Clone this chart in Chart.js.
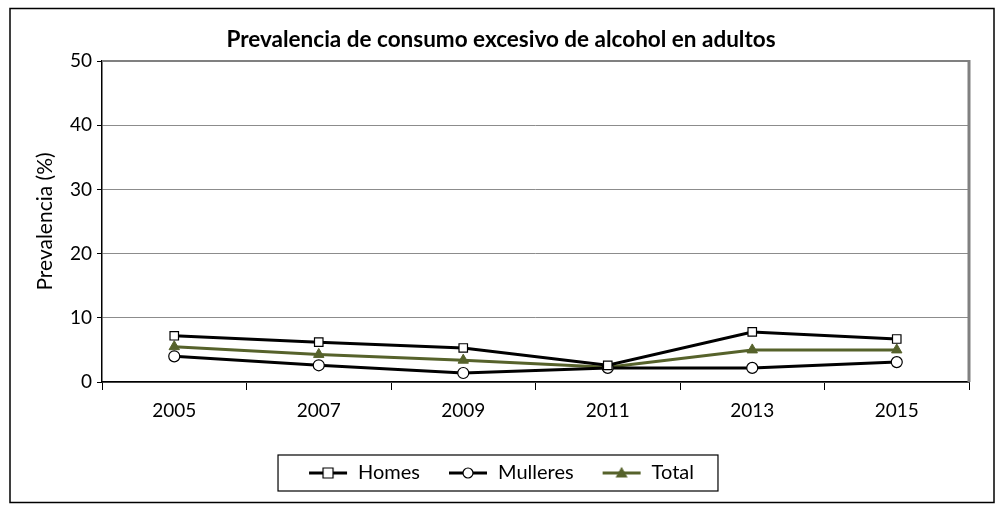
<!DOCTYPE html>
<html>
<head>
<meta charset="utf-8">
<script src="https://cdn.jsdelivr.net/npm/chart.js@4/dist/chart.umd.min.js"></script>
<style>
  body { margin: 0; background: #fff; }
  #wrap { width: 1002px; height: 508px; }
</style>
</head>
<body>
<div id="wrap"><canvas id="lineChart"></canvas></div>
<script>
// Data
const years = ['2005', '2007', '2009', '2011', '2013', '2015'];
const homes = [7.2, 6.2, 5.3, 2.6, 7.8, 6.7];
const mulleres = [4.0, 2.6, 1.4, 2.2, 2.2, 3.1];
const total = [5.5, 4.3, 3.4, 2.3, 5.0, 5.0];
const yTicks = [0, 10, 20, 30, 40, 50];

const olive = '#56622b';
const FONT = 'Lato, "DejaVu Sans", sans-serif';

// little "line + marker" images for the legend
function legendIcon(style, color, fill) {
    const c = document.createElement('canvas');
    c.width = 40; c.height = 14;
    const g = c.getContext('2d');
    g.strokeStyle = color;
    g.lineWidth = 3;
    g.beginPath(); g.moveTo(1, 7); g.lineTo(39, 7); g.stroke();
    g.lineWidth = 1.2;
    g.fillStyle = fill;
    g.beginPath();
    if (style === 'rect') {
        g.rect(15, 2, 10, 10);
    } else if (style === 'circle') {
        g.arc(20, 7, 5, 0, Math.PI * 2);
    } else {
        g.moveTo(20, 2); g.lineTo(25, 11); g.lineTo(15, 11); g.closePath();
    }
    g.fill(); g.stroke();
    return c;
}

// plot area border, legend box and outer frame
const framePlugin = {
    id: 'frames',
    afterDraw(chart) {
        const ctx = chart.ctx;
        const a = chart.chartArea;
        ctx.save();
        // top + right plot border
        ctx.strokeStyle = '#808080';
        ctx.lineWidth = 2;
        ctx.beginPath(); ctx.moveTo(a.left, a.top); ctx.lineTo(a.right, a.top); ctx.stroke();
        ctx.lineWidth = 3;
        ctx.beginPath(); ctx.moveTo(a.right, a.top - 1); ctx.lineTo(a.right, a.bottom); ctx.stroke();

        // legend box
        const boxes = chart.legend.legendHitBoxes;
        if (boxes && boxes.length) {
            const first = boxes[0], last = boxes[boxes.length - 1];
            ctx.strokeStyle = '#000';
            ctx.lineWidth = 1.2;
            ctx.strokeRect(first.left - 30, first.top - 8, last.left + last.width - first.left + 54, first.height + 16);
        }

        // outer frame
        ctx.lineWidth = 1.5;
        ctx.strokeRect(10, 8.5, 984, 494);
        ctx.restore();
    }
};

const ctxLine = document.getElementById('lineChart').getContext('2d');
const lineChart = new Chart(ctxLine, {
    type: 'line',
    data: {
        labels: years,
        datasets: [{
            label: 'Homes',
            data: homes,
            borderColor: '#000',
            borderWidth: 3,
            pointStyle: 'rect',
            pointRadius: 6,
            pointBackgroundColor: '#fff',
            pointBorderColor: '#000',
            pointBorderWidth: 1.2,
            legendIcon: legendIcon('rect', '#000', '#fff')
        }, {
            label: 'Mulleres',
            data: mulleres,
            borderColor: '#000',
            borderWidth: 3,
            pointStyle: 'circle',
            pointRadius: 5.5,
            pointBackgroundColor: '#fff',
            pointBorderColor: '#000',
            pointBorderWidth: 1.2,
            legendIcon: legendIcon('circle', '#000', '#fff')
        }, {
            label: 'Total',
            data: total,
            borderColor: olive,
            borderWidth: 3,
            pointStyle: 'triangle',
            pointRadius: 6,
            pointBackgroundColor: olive,
            pointBorderColor: olive,
            pointBorderWidth: 1,
            legendIcon: legendIcon('triangle', olive, olive)
        }]
    },
    options: {
        responsive: true,
        maintainAspectRatio: false,
        animation: false,
        devicePixelRatio: 1,
        layout: { padding: { left: 33, right: 33, top: 0, bottom: 15 } },
        plugins: {
            title: {
                display: true,
                text: 'Prevalencia de consumo excesivo de alcohol en adultos',
                color: '#000',
                font: { family: FONT, size: 22.5, weight: 'bold' },
                padding: { top: 26, bottom: 8 }
            },
            legend: {
                position: 'bottom',
                labels: {
                    color: '#000',
                    font: { family: FONT, size: 20 },
                    usePointStyle: true,
                    pointStyleWidth: 40,
                    padding: 28,
                    generateLabels(chart) {
                        return chart.data.datasets.map((ds, i) => ({
                            text: ds.label,
                            pointStyle: ds.legendIcon,
                            fontColor: '#000',
                            hidden: false,
                            datasetIndex: i,
                            lineWidth: 0
                        }));
                    }
                }
            },
            tooltip: { enabled: false }
        },
        scales: {
            x: {
                offset: true,
                border: { color: '#000', width: 1.5 },
                grid: { offset: true, drawOnChartArea: false, drawTicks: true, tickLength: 8, color: '#000' },
                ticks: { color: '#000', padding: 9, font: { family: FONT, size: 19 } },
                afterFit(scale) { scale.height = 53; }
            },
            y: {
                min: 0,
                max: 50,
                afterBuildTicks(scale) { scale.ticks = yTicks.map(v => ({ value: v })); },
                border: { color: '#000', width: 1.5 },
                grid: { color: '#8c8c8c', lineWidth: 1, tickLength: 5, tickColor: '#000' },
                ticks: { color: '#000', padding: 5, font: { family: FONT, size: 19 } },
                title: {
                    display: true,
                    text: 'Prevalencia (%)',
                    color: '#000',
                    font: { family: FONT, size: 21 },
                    padding: { top: 0, bottom: 0 }
                },
                afterFit(scale) { scale.width = 69; }
            }
        }
    },
    plugins: [framePlugin]
});
</script>
</body>
</html>
